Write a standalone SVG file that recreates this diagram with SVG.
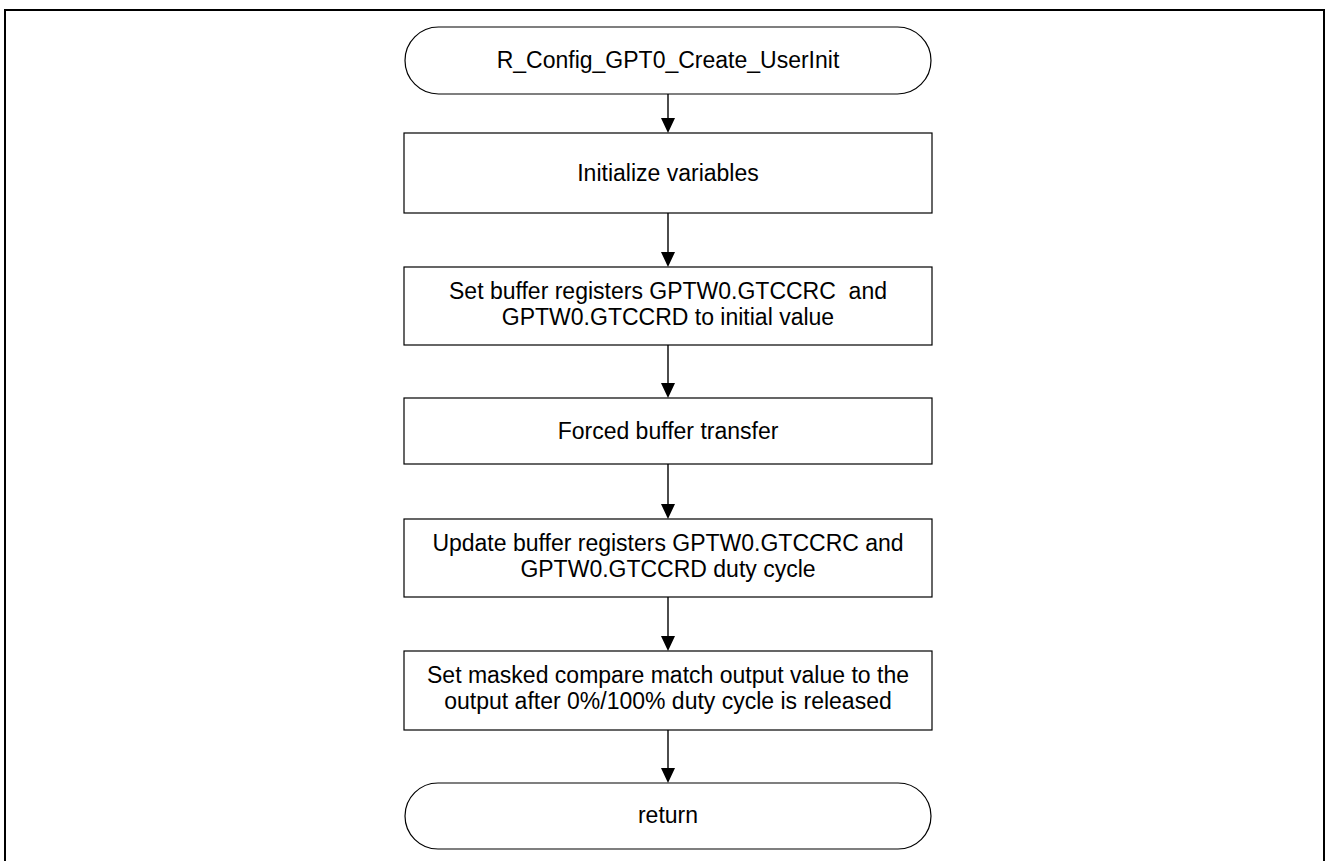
<svg xmlns="http://www.w3.org/2000/svg" width="1326" height="861" viewBox="0 0 1326 861">
<style>
.frame{fill:none;stroke:#000;stroke-width:2}
.shape{fill:#fff;stroke:#000;stroke-width:1.2}
.lbl{font-family:"Liberation Sans",Arial,sans-serif;font-size:23px;fill:#000;text-anchor:middle;white-space:pre}
.conn{stroke:#000;stroke-width:1.4;fill:none}
</style>
<defs>
<marker id="arr" markerWidth="14" markerHeight="15" refX="7" refY="15" orient="auto-start-reverse" markerUnits="userSpaceOnUse" viewBox="0 0 14 15">
<path d="M0,0 L14,0 L7,15 Z" fill="#000" transform="rotate(0)"/>
</marker>
</defs>
<rect class="frame" x="5" y="10" width="1319" height="900"/>
<g id="start">
<rect class="shape" x="405" y="27" width="526" height="67" rx="33.5" ry="33.5"/>
<text class="lbl" x="668" y="68">R_Config_GPT0_Create_UserInit</text>
</g>
<g id="box1">
<rect class="shape" x="404" y="133" width="528" height="80"/>
<text class="lbl" x="668" y="181">Initialize variables</text>
</g>
<g id="box2">
<rect class="shape" x="404" y="267" width="528" height="78"/>
<text class="lbl" x="668" y="299">Set buffer registers GPTW0.GTCCRC  and</text>
<text class="lbl" x="668" y="325">GPTW0.GTCCRD to initial value</text>
</g>
<g id="box3">
<rect class="shape" x="404" y="398" width="528" height="66"/>
<text class="lbl" x="668" y="439">Forced buffer transfer</text>
</g>
<g id="box4">
<rect class="shape" x="404" y="519" width="528" height="78"/>
<text class="lbl" x="668" y="551">Update buffer registers GPTW0.GTCCRC and</text>
<text class="lbl" x="668" y="577">GPTW0.GTCCRD duty cycle</text>
</g>
<g id="box5">
<rect class="shape" x="404" y="651" width="528" height="79"/>
<text class="lbl" x="668" y="683">Set masked compare match output value to the</text>
<text class="lbl" x="668" y="709">output after 0%/100% duty cycle is released</text>
</g>
<g id="end">
<rect class="shape" x="405" y="783" width="526" height="66" rx="33" ry="33"/>
<text class="lbl" x="668" y="823">return</text>
</g>
<g id="connectors">
<path d="M0,0" />
<line class="conn" x1="668" y1="94" x2="668" y2="119"/>
<path d="M661,118 L675,118 L668,133 Z" fill="#000"/>
<line class="conn" x1="668" y1="213" x2="668" y2="253"/>
<path d="M661,252 L675,252 L668,267 Z" fill="#000"/>
<line class="conn" x1="668" y1="345" x2="668" y2="384"/>
<path d="M661,383 L675,383 L668,398 Z" fill="#000"/>
<line class="conn" x1="668" y1="464" x2="668" y2="505"/>
<path d="M661,504 L675,504 L668,519 Z" fill="#000"/>
<line class="conn" x1="668" y1="597" x2="668" y2="637"/>
<path d="M661,636 L675,636 L668,651 Z" fill="#000"/>
<line class="conn" x1="668" y1="730" x2="668" y2="769"/>
<path d="M661,768 L675,768 L668,783 Z" fill="#000"/>
</g>
</svg>
